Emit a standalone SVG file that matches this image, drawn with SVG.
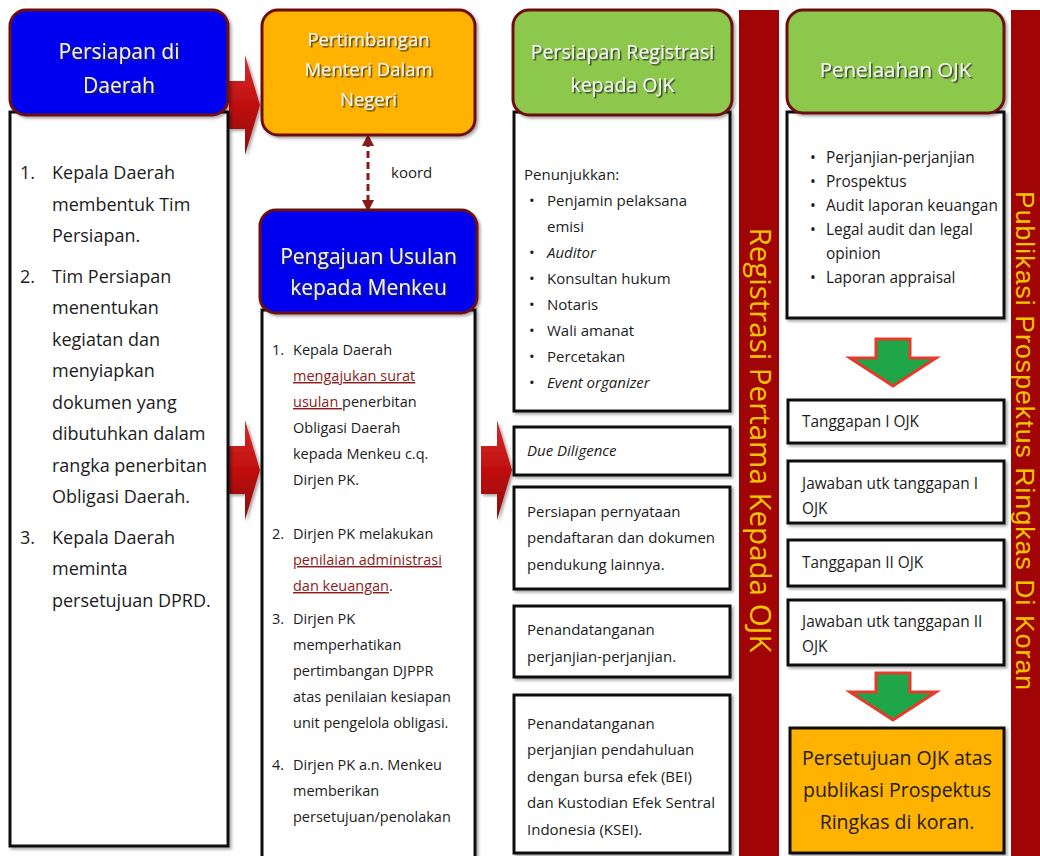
<svg xmlns="http://www.w3.org/2000/svg" xmlns:xlink="http://www.w3.org/1999/xlink" width="1040" height="856" viewBox="0 0 1040 856">
<defs>
  <filter id="ts" x="-10%" y="-30%" width="130%" height="170%">
    <feDropShadow dx="1.5" dy="1.5" stdDeviation="0.7" flood-color="#2a2a2a" flood-opacity="0.85"/>
  </filter>
  <filter id="bs" x="-5%" y="-5%" width="115%" height="115%">
    <feDropShadow dx="2" dy="2" stdDeviation="1.5" flood-color="#000" flood-opacity="0.35"/>
  </filter>
  <linearGradient id="redg" x1="0" y1="0" x2="0" y2="1">
    <stop offset="0" stop-color="#D82A2A"/>
    <stop offset="0.5" stop-color="#C01010"/>
    <stop offset="1" stop-color="#8E0808"/>
  </linearGradient>
  <path id="blk" d="M0,-24 H16 V-50 L31,0 L16,50 V24 H0 Z"/>
  <polygon id="grn" points="-17,0 17,0 17,19 43,19 0,47 -43,19 -17,19"/>
  <marker id="dh" viewBox="0 0 10 10" refX="5" refY="5" markerWidth="4" markerHeight="4" orient="auto-start-reverse" markerUnits="strokeWidth">
    <path d="M0,0 L10,5 L0,10 Z" fill="#8B1A1A"/>
  </marker>
</defs>
<style>
  .hdr { stroke:#6E1010; stroke-width:3; filter:url(#bs); }
  .box { fill:#ffffff; stroke:#111111; stroke-width:3; filter:url(#bs); }
  .ht { font-family:"Open Sans","Liberation Sans",sans-serif; fill:#F6F6F6; text-anchor:middle; filter:url(#ts); }
  .t1 { font-family:"Open Sans","Liberation Sans",sans-serif; font-size:18px; fill:#1c1c1c; }
  .t2 { font-family:"Open Sans","Liberation Sans",sans-serif; font-size:14.5px; fill:#1c1c1c; }
  .t3 { font-family:"Open Sans","Liberation Sans",sans-serif; font-size:15px; fill:#1c1c1c; }
  .t4 { font-family:"Open Sans","Liberation Sans",sans-serif; font-size:15.4px; fill:#1c1c1c; }
  .it { font-style:italic; }
  .ul { fill:#8E1B1B; text-decoration:underline; }
  .bar { fill:#A00404; }
  .bt { fill:#F5C400; text-anchor:middle; }
  .red { fill:url(#redg); filter:url(#bs); }
  .garr { fill:#1FA648; stroke:#E83A2A; stroke-width:3; stroke-linejoin:miter; }
</style>
<rect width="1040" height="856" fill="#ffffff"/>

<g id="connectors">
  <use xlink:href="#blk" href="#blk" x="229" y="105" class="red"/>
  <use xlink:href="#blk" href="#blk" x="229" y="470" class="red"/>
  <use xlink:href="#blk" href="#blk" x="481" y="470" class="red"/>
  <line x1="368" y1="140" x2="368" y2="206" stroke="#8B1A1A" stroke-width="3" stroke-dasharray="7,4" marker-start="url(#dh)" marker-end="url(#dh)"/>
  <text x="391" y="178" style="font-family:'Open Sans','Liberation Sans',sans-serif;font-size:15px;fill:#222">koord</text>
  <use xlink:href="#grn" href="#grn" x="893" y="339" class="garr"/>
  <use xlink:href="#grn" href="#grn" x="893" y="673" class="garr"/>
</g>

<g id="persiapan-daerah">
  <rect class="box" x="10" y="112" width="218" height="734"/>
  <rect class="hdr" x="10" y="10" width="218" height="105" rx="16" fill="#0000F0"/>
  <text class="ht" x="119" y="59" font-size="21">Persiapan di</text>
  <text class="ht" x="119" y="93" font-size="21">Daerah</text>
  <g class="t1">
    <text x="20" y="179">1.</text><text x="52" y="179">Kepala Daerah</text>
    <text x="52" y="210.5">membentuk Tim</text>
    <text x="52" y="242">Persiapan.</text>
    <text x="20" y="282.5">2.</text><text x="52" y="282.5">Tim Persiapan</text>
    <text x="52" y="314">menentukan</text>
    <text x="52" y="345.5">kegiatan dan</text>
    <text x="52" y="377">menyiapkan</text>
    <text x="52" y="408.5">dokumen yang</text>
    <text x="52" y="440">dibutuhkan dalam</text>
    <text x="52" y="471.5">rangka penerbitan</text>
    <text x="52" y="503">Obligasi Daerah.</text>
    <text x="20" y="543.5">3.</text><text x="52" y="543.5">Kepala Daerah</text>
    <text x="52" y="575">meminta</text>
    <text x="52" y="606.5">persetujuan DPRD.</text>
  </g>
</g>

<g id="pertimbangan-mendagri">
  <rect class="hdr" x="262" y="10" width="213" height="125" rx="16" fill="#FFB300"/>
  <text class="ht" x="368.5" y="46" font-size="18.5">Pertimbangan</text>
  <text class="ht" x="368.5" y="76" font-size="18.5">Menteri Dalam</text>
  <text class="ht" x="368.5" y="106" font-size="18.5">Negeri</text>
</g>

<g id="pengajuan-usulan">
  <rect class="box" x="262" y="310" width="213" height="560"/>
  <rect class="hdr" x="260" y="210" width="217" height="103" rx="16" fill="#0000F0"/>
  <text class="ht" x="368.5" y="264" font-size="21">Pengajuan Usulan</text>
  <text class="ht" x="368.5" y="295" font-size="21">kepada Menkeu</text>
  <g class="t2">
    <text x="272" y="355">1.</text><text x="293" y="355">Kepala Daerah</text>
    <text x="293" y="381" class="ul">mengajukan surat</text>
    <text x="293" y="407"><tspan class="ul">usulan </tspan>penerbitan</text>
    <text x="293" y="433">Obligasi Daerah</text>
    <text x="293" y="459">kepada Menkeu c.q.</text>
    <text x="293" y="485">Dirjen PK.</text>
    <text x="272" y="539">2.</text><text x="293" y="539">Dirjen PK melakukan</text>
    <text x="293" y="565" class="ul">penilaian administrasi</text>
    <text x="293" y="591"><tspan class="ul">dan keuangan</tspan>.</text>
    <text x="272" y="624">3.</text><text x="293" y="624">Dirjen PK</text>
    <text x="293" y="650">memperhatikan</text>
    <text x="293" y="676">pertimbangan DJPPR</text>
    <text x="293" y="702">atas penilaian kesiapan</text>
    <text x="293" y="728">unit pengelola obligasi.</text>
    <text x="272" y="770">4.</text><text x="293" y="770">Dirjen PK a.n. Menkeu</text>
    <text x="293" y="796">memberikan</text>
    <text x="293" y="822">persetujuan/penolakan</text>
  </g>
</g>

<g id="persiapan-registrasi">
  <rect class="box" x="514" y="112" width="216" height="299"/>
  <rect class="hdr" x="513" y="10" width="219" height="105" rx="16" fill="#8CC84B"/>
  <text class="ht" x="622.5" y="59" font-size="19.5">Persiapan Registrasi</text>
  <text class="ht" x="622.5" y="92" font-size="19.5">kepada OJK</text>
  <g class="t3">
    <text x="524" y="180">Penunjukkan:</text>
    <text x="529" y="206">•</text><text x="547" y="206">Penjamin pelaksana</text>
    <text x="547" y="232">emisi</text>
    <text x="529" y="258">•</text><text x="547" y="258" class="it">Auditor</text>
    <text x="529" y="284">•</text><text x="547" y="284">Konsultan hukum</text>
    <text x="529" y="310">•</text><text x="547" y="310">Notaris</text>
    <text x="529" y="336">•</text><text x="547" y="336">Wali amanat</text>
    <text x="529" y="362">•</text><text x="547" y="362">Percetakan</text>
    <text x="529" y="388">•</text><text x="547" y="388" class="it">Event organizer</text>
  </g>
</g>

<g id="due-diligence">
  <rect class="box" x="514" y="427" width="216" height="48"/>
  <text class="t3 it" x="527" y="456">Due Diligence</text>
</g>

<g id="persiapan-pernyataan">
  <rect class="box" x="514" y="487" width="216" height="102"/>
  <g class="t3">
    <text x="527" y="517">Persiapan pernyataan</text>
    <text x="527" y="543">pendaftaran dan dokumen</text>
    <text x="527" y="570">pendukung lainnya.</text>
  </g>
</g>

<g id="penandatanganan-perjanjian">
  <rect class="box" x="514" y="606" width="216" height="71"/>
  <g class="t3">
    <text x="527" y="635">Penandatanganan</text>
    <text x="527" y="662">perjanjian-perjanjian.</text>
  </g>
</g>

<g id="penandatanganan-pendahuluan">
  <rect class="box" x="514" y="695" width="216" height="158"/>
  <g class="t3">
    <text x="527" y="729">Penandatanganan</text>
    <text x="527" y="755">perjanjian pendahuluan</text>
    <text x="527" y="782">dengan bursa efek (BEI)</text>
    <text x="527" y="808">dan Kustodian Efek Sentral</text>
    <text x="527" y="835">Indonesia (KSEI).</text>
  </g>
</g>

<g id="registrasi-pertama">
  <rect class="bar" x="739" y="10" width="40" height="850"/>
  <text class="bt" style="font-family:'Open Sans','Liberation Sans',sans-serif" font-size="29.5" transform="translate(750,440) rotate(90)">Registrasi Pertama Kepada OJK</text>
</g>

<g id="penelaahan-ojk">
  <rect class="box" x="787" y="112" width="217" height="206"/>
  <rect class="hdr" x="787" y="10" width="217" height="103" rx="16" fill="#8CC84B"/>
  <text class="ht" x="895.5" y="77" font-size="20.5">Penelaahan OJK</text>
  <g class="t4">
    <text x="810" y="163">•</text><text x="826" y="163">Perjanjian-perjanjian</text>
    <text x="810" y="187">•</text><text x="826" y="187">Prospektus</text>
    <text x="810" y="211">•</text><text x="826" y="211">Audit laporan keuangan</text>
    <text x="810" y="235">•</text><text x="826" y="235">Legal audit dan legal</text>
    <text x="826" y="259">opinion</text>
    <text x="810" y="283">•</text><text x="826" y="283">Laporan appraisal</text>
  </g>
</g>

<g id="tanggapan-1">
  <rect class="box" x="788" y="400" width="216" height="43"/>
  <text class="t4" x="802" y="427">Tanggapan I OJK</text>
</g>

<g id="jawaban-1">
  <rect class="box" x="788" y="461" width="216" height="62"/>
  <text class="t4" x="802" y="489">Jawaban utk tanggapan I</text>
  <text class="t4" x="802" y="514">OJK</text>
</g>

<g id="tanggapan-2">
  <rect class="box" x="788" y="540" width="216" height="46"/>
  <text class="t4" x="802" y="568">Tanggapan II OJK</text>
</g>

<g id="jawaban-2">
  <rect class="box" x="788" y="600" width="216" height="65"/>
  <text class="t4" x="802" y="627">Jawaban utk tanggapan II</text>
  <text class="t4" x="802" y="652">OJK</text>
</g>

<g id="persetujuan-ojk">
  <rect x="790" y="728" width="214" height="125" fill="#FFB300" stroke="#111" stroke-width="3" filter="url(#bs)"/>
  <g style="font-family:'Open Sans','Liberation Sans',sans-serif;font-size:19.5px;fill:#1f1a12;text-anchor:middle">
    <text x="897" y="765">Persetujuan OJK atas</text>
    <text x="897" y="797">publikasi Prospektus</text>
    <text x="897" y="829">Ringkas di koran.</text>
  </g>
</g>

<g id="publikasi-prospektus">
  <rect class="bar" x="1011" y="10" width="32" height="850"/>
  <text class="bt" style="font-family:'Liberation Sans',Arial,sans-serif;letter-spacing:1.1px" font-size="26.5" transform="translate(1015.5,441) rotate(90)">Publikasi Prospektus Ringkas Di Koran</text>
</g>
</svg>
